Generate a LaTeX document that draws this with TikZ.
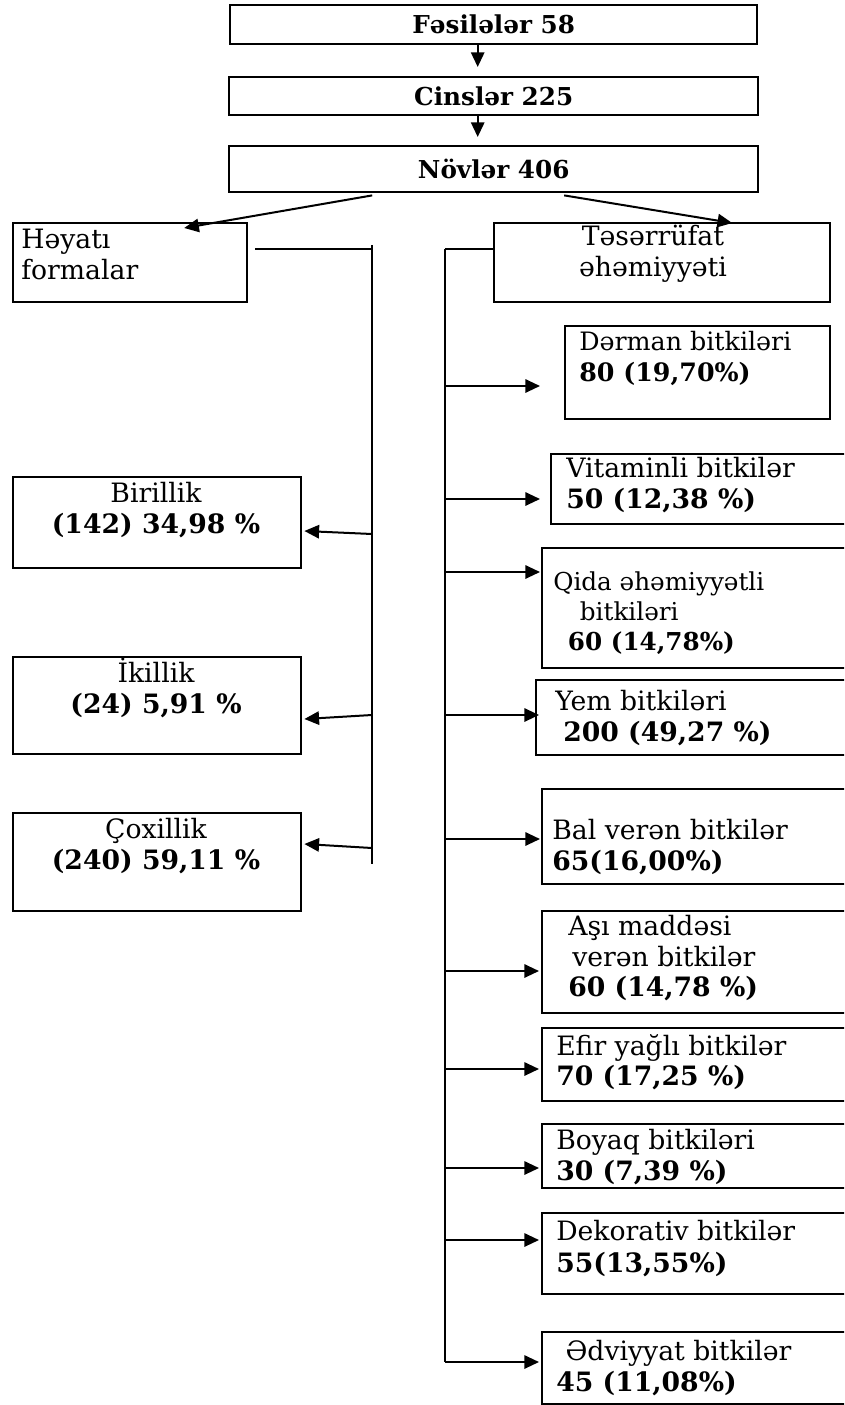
\documentclass[tikz,border=0pt]{standalone}
\usepackage{fontspec}
\setmainfont{DejaVu Serif}
\usetikzlibrary{arrows.meta,calc}

\tikzset{
  box/.style={draw, line width=1.8pt, inner sep=0pt, anchor=north west},
  wh/.style 2 args={minimum width=#1*0.75pt, minimum height=#2*0.75pt},
  txt/.style={inner sep=0pt, anchor=north west, align=left, font=\fontsize{20}{23}\selectfont},
  arr/.style={line width=1.5pt, -{Triangle[length=11pt,width=10pt]}},
  bus/.style={line width=1.4pt}
}

\begin{document}
\begin{tikzpicture}[x=0.75pt,y=0.75pt,yscale=-1,xscale=1]
\useasboundingbox (0,0) rectangle (844,1405);
\clip (0,0) rectangle (844,1405);

%Shape: Rectangle
\node [box, wh={527}{39}, font=\bfseries\fontsize{18.5}{22}\selectfont] (fam) at (229,4) {Fəsilələr 58};
%Shape: Rectangle
\node [box, wh={529}{38}, font=\bfseries\fontsize{18.5}{22}\selectfont] (cins) at (228,76) {Cinslər 225};
%Shape: Rectangle
\node [box, wh={529}{46}, font=\bfseries\fontsize{18.5}{22}\selectfont] (nov) at (228,145) {Növlər 406};

%Straight Lines
\draw [arr] ($(fam.south)+(-16,0)$) -- ($(cins.north)+(-16,-9)$);
%Straight Lines
\draw [arr] ($(cins.south)+(-16,0)$) -- ($(nov.north)+(-16,-8)$);

%Shape: Rectangle
\node [box, wh={234}{79}] (hayat) at (12,222) {};
%Shape: Rectangle
\node [box, wh={336}{79}] (taserr) at (493,222) {};

%Straight Lines
\draw [arr] ($(nov.south)+(-121.5,2)$) -- ($(hayat.north)+(54,6)$);
%Straight Lines
\draw [arr] ($(nov.south)+(70.5,2)$) -- ($(taserr.north)+(70,1)$);

%Shape: Rectangle
\node [box, wh={288}{91}] (bir) at (12,476) {};
\node [box, wh={288}{97}] (iki) at (12,656) {};
\node [box, wh={288}{98}] (cox) at (12,812) {};

%Shape: Rectangle
\node [box, wh={265}{93}] (derman) at (564,325) {};
\node [box, wh={300}{70}] (vitamin) at (550,453) {};
\node [box, wh={309}{120}] (qida) at (541,547) {};
\node [box, wh={315}{75}] (yem) at (535,679) {};
\node [box, wh={309}{95}] (bal) at (541,788) {};
\node [box, wh={309}{102}] (asi) at (541,910) {};
\node [box, wh={309}{73}] (efir) at (541,1027) {};
\node [box, wh={309}{64}] (boyaq) at (541,1123) {};
\node [box, wh={309}{81}] (dekor) at (541,1212) {};
\node [box, wh={309}{72}] (edviy) at (541,1331) {};

%Straight Lines
\coordinate (lbus) at (372,245);
\coordinate (lbus-end) at (372,864);
\draw [bus] (lbus) -- (lbus-end);
\draw [bus] ($(hayat.east |- lbus)+(7,4)$) -- ($(lbus)+(0,4)$);
\foreach \nm/\ya/\yb in {bir/534/531, iki/715/719, cox/848/844}
  \draw [arr] (lbus |- 0,\ya) -- ($(\nm.east |- 0,\yb)+(2,0)$);

%Straight Lines
\coordinate (rbus) at (445,249);
\coordinate (rbus-end) at (445,1362);
\draw [bus] (rbus) -- (rbus-end);
\draw [bus] (rbus) -- (taserr.west |- rbus);
\foreach \nm/\yy/\gap in {derman/386/24, vitamin/499/10, qida/572/1, yem/715/-4, bal/839/1, asi/971/2, efir/1069/2, boyaq/1168/2, dekor/1240/2, edviy/1362/2}
  \draw [arr] (rbus |- 0,\yy) -- ($(\nm.west |- 0,\yy)-(\gap,0)$);

% Text Node
\node [txt] (hayat-t) at (21,229) {Həyatı\\formalar};
% Text Node
\node [txt, anchor=north, align=center] (taserr-t) at (653,225) {Təsərrüfat\\əhəmiyyəti};
% Text Node
\node [txt, anchor=north, align=center] (bir-t) at (156,482) {Birillik\\\textbf{(142) 34,98 \%}};
\node [txt, anchor=north, align=center] (iki-t) at (156,658) {İkillik\\\textbf{(24) 5,91 \%}};
\node [txt, anchor=north, align=center] (cox-t) at (156,818) {Çoxillik\\\textbf{(240) 59,11 \%}};

% Text Node
\node [txt, font=\fontsize{19}{23}\selectfont] (derman-t) at (579,331) {Dərman bitkiləri\\\textbf{80 (19,70\%)}};
\node [txt] (vitamin-t) at (566,457) {Vitaminli bitkilər\\\textbf{50 (12,38 \%)}};
\node [txt, font=\fontsize{18.5}{22.5}\selectfont] (qida-t) at (553,571) {Qida əhəmiyyətli\\\hspace{20pt}bitkiləri\\\hspace{11pt}\textbf{60 (14,78\%)}};
\node [txt] (yem-t) at (555,690) {Yem bitkiləri\\\hspace{6pt}\textbf{200 (49,27 \%)}};
\node [txt] (bal-t) at (552,819) {Bal verən bitkilər\\\textbf{65(16,00\%)}};
\node [txt] (asi-t) at (568,915) {Aşı maddəsi\\\hspace{3pt}verən bitkilər\\\textbf{60 (14,78 \%)}};
\node [txt] (efir-t) at (556,1034) {Efir yağlı bitkilər\\\textbf{70 (17,25 \%)}};
\node [txt] (boyaq-t) at (556,1129) {Boyaq bitkiləri\\\textbf{30 (7,39 \%)}};
\node [txt] (dekor-t) at (556,1220) {Dekorativ bitkilər\\[1pt]\textbf{55(13,55\%)}};
\node [txt] (edviy-t) at (556,1340) {\hspace{7pt}Ədviyyat bitkilər\\\textbf{45 (11,08\%)}};

\end{tikzpicture}
\end{document}
